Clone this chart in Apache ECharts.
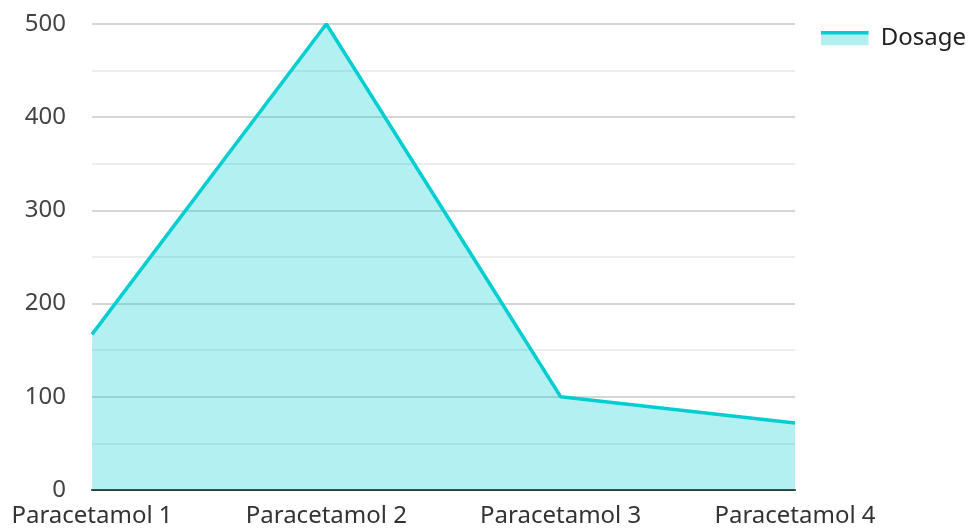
<!DOCTYPE html>
<html><head><meta charset="utf-8">
<script src="https://cdn.jsdelivr.net/npm/echarts@6/dist/echarts.min.js"></script>
<style>html,body{margin:0;padding:0;background:#fff}#c{width:968px;height:531px}</style>
</head><body><div id="c"></div>
<script>
var categories = ['Paracetamol 1', 'Paracetamol 2', 'Paracetamol 3', 'Paracetamol 4'];
var dosage = [167, 500, 100, 72];
var seriesName = 'Dosage';

var iconSvg = '<svg xmlns="http://www.w3.org/2000/svg" width="48" height="15" viewBox="0 0 48 15">' +
  '<rect x="0" y="0" width="48" height="15" fill="#b2efef"/>' +
  '<rect x="0" y="0" width="48" height="4" fill="#00CED1"/></svg>';
var iconUri = 'image://data:image/svg+xml;charset=utf-8,' + encodeURIComponent(iconSvg);

var chart = echarts.init(document.getElementById('c'));
chart.setOption({
  animation: false,
  textStyle: { fontFamily: 'Noto Sans' },
  grid: { left: 92, right: 173, top: 24, bottom: 41, containLabel: false },
  legend: {
    data: [{ name: seriesName, icon: iconUri }], right: 2, top: 26, padding: 0,
    itemWidth: 48, itemHeight: 15, itemGap: 10,
    textStyle: { fontSize: 24, color: '#222', fontFamily: 'Noto Sans', padding: [0, 0, 0, 7] }
  },
  xAxis: {
    type: 'category', data: categories, boundaryGap: false,
    axisLine: { show: true, lineStyle: { color: '#333', width: 2 } },
    axisTick: { show: false },
    axisLabel: { fontSize: 24, color: '#333', margin: 14, fontFamily: 'Noto Sans' },
    splitLine: { show: false }
  },
  yAxis: {
    type: 'value', min: 0, max: 500, interval: 100,
    axisLine: { show: false }, axisTick: { show: false },
    axisLabel: { fontSize: 24, color: '#444', margin: 26, fontFamily: 'Noto Sans' },
    splitLine: { show: true, lineStyle: { color: '#c8c8c8', width: 1.5 } },
    minorTick: { show: false, splitNumber: 2 },
    minorSplitLine: { show: true, lineStyle: { color: '#e8e8e8', width: 1.5 } }
  },
  series: [{
    name: seriesName, type: 'line', data: dosage,
    symbol: 'none', showSymbol: false,
    lineStyle: { color: '#00CED1', width: 3.5 },
    itemStyle: { color: '#00CED1' },
    areaStyle: { color: '#00CED1', opacity: 0.3 },
    z: 3
  }]
});
</script></body></html>
